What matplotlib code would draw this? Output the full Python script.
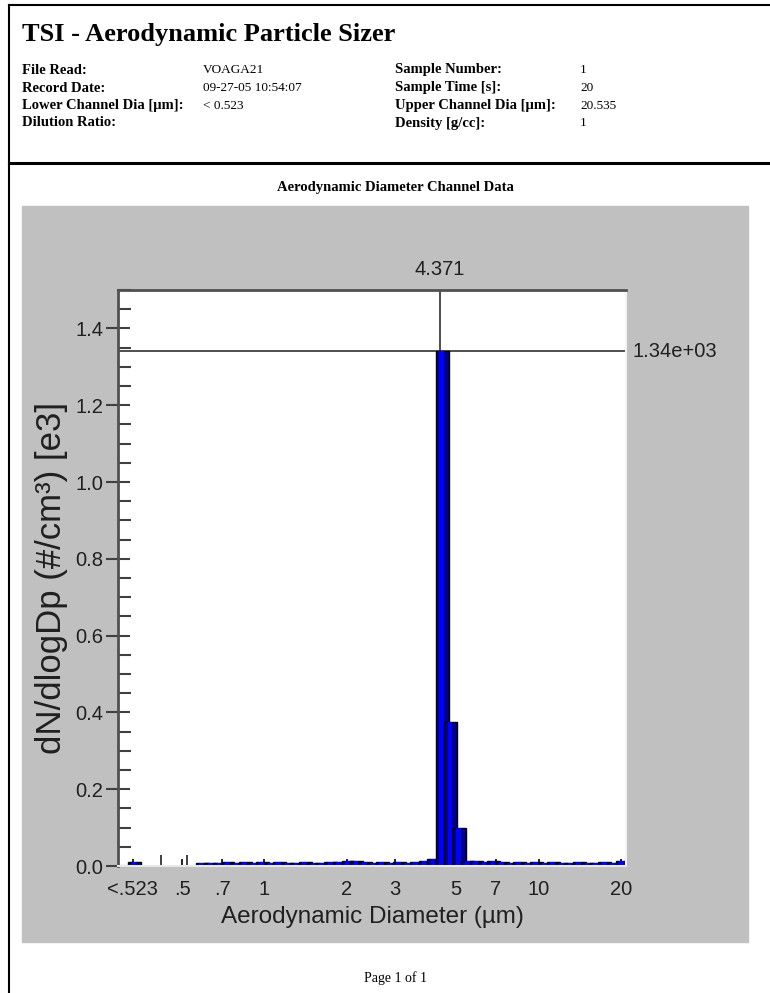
"""TSI APS report page: aerodynamic diameter channel data."""
import matplotlib
matplotlib.use("Agg")
import matplotlib.pyplot as plt
from matplotlib.lines import Line2D
from matplotlib.patches import Rectangle
from matplotlib.ticker import FixedLocator, FixedFormatter, MultipleLocator

# header info
info_labels_left = ["File Read:", "Record Date:", "Lower Channel Dia [µm]:", "Dilution Ratio:"]
info_values_left = ["VOAGA21", "09-27-05 10:54:07", "< 0.523", ""]
info_labels_right = ["Sample Number:", "Sample Time [s]:", "Upper Channel Dia [µm]:", "Density [g/cc]:"]
info_values_right = ["1", "20", "20.535", "1"]

# channel midpoints (µm) and dN/dlogDp [e3]
channel_mid = [0.542, 0.583, 0.626, 0.673, 0.723, 0.777, 0.835, 0.898, 0.965, 1.037,
               1.114, 1.197, 1.286, 1.382, 1.486, 1.596, 1.715, 1.843, 1.981, 2.129,
               2.288, 2.458, 2.642, 2.839, 3.051, 3.278, 3.523, 3.786, 4.068, 4.371,
               4.698, 5.048, 5.425, 5.829, 6.264, 6.732, 7.234, 7.774, 8.354, 8.977,
               9.647, 10.37, 11.14, 11.97, 12.86, 13.82, 14.86, 15.96, 17.15, 18.43, 19.81]
dn_dlogdp = [0.000,
             0.008, 0.009, 0.009, 0.010, 0.009, 0.010, 0.009, 0.010, 0.009,
             0.010, 0.009, 0.009, 0.010, 0.009, 0.009, 0.010, 0.011, 0.014,
             0.012, 0.010, 0.009, 0.010, 0.009, 0.010, 0.009, 0.010, 0.012, 0.018,
             1.340, 0.376, 0.099, 0.014, 0.012, 0.010, 0.012, 0.010, 0.009,
             0.010, 0.009, 0.010, 0.009, 0.010, 0.009, 0.009, 0.010, 0.009, 0.009,
             0.010, 0.009, 0.012]
lt523_value = 0.010          # the "<.523" channel
cursor_x = 4.371
cursor_y = 1.34

xtick_pos = [0.33, 0.5, 0.7, 1, 2, 3, 5, 7, 10, 20]
xtick_labels = ["<.523", ".5", ".7", "1", "2", "3", "5", "7", "10", "20"]
ytick_pos = [0.0, 0.2, 0.4, 0.6, 0.8, 1.0, 1.2, 1.4]
ytick_labels = ["0.0", "0.2", "0.4", "0.6", "0.8", "1.0", "1.2", "1.4"]

W, H = 770, 993
SERIF = "Liberation Serif"
SANS = "Liberation Sans"


def fx(px):
    return px / W


def fy(py):
    return 1 - py / H


fig = plt.figure(figsize=(W / 100, H / 100), dpi=100)
fig.patch.set_facecolor("white")

# page frame + grey panel
fig.add_artist(Line2D([fx(9), fx(9)], [0, fy(5)], color="black", lw=1.5))
fig.add_artist(Line2D([fx(9), 1], [fy(5), fy(5)], color="black", lw=1.5))
fig.add_artist(Line2D([fx(9), 1], [fy(163), fy(163)], color="black", lw=2.2))
fig.add_artist(Rectangle((fx(22), fy(942)), fx(748 - 22), (942 - 206) / H,
                         transform=fig.transFigure, color="#c0c0c0", zorder=-5))

# header text
fig.text(fx(22), fy(35), "TSI - Aerodynamic Particle Sizer", family=SERIF,
         weight="bold", fontsize=19, va="center")
rows_y = [70, 88, 106, 123]
for yy, a, b, c, d in zip(rows_y, info_labels_left, info_values_left,
                          info_labels_right, info_values_right):
    fig.text(fx(22), fy(yy), a, family=SERIF, weight="bold", fontsize=10.5, va="center")
    fig.text(fx(203), fy(yy), b, family=SERIF, fontsize=9.5, va="center")
    fig.text(fx(395), fy(yy), c, family=SERIF, weight="bold", fontsize=10.5, va="center")
    fig.text(fx(580), fy(yy), d, family=SERIF, fontsize=9.5, va="center")
fig.text(fx(395), fy(187), "Aerodynamic Diameter Channel Data", family=SERIF,
         weight="bold", fontsize=10.5, ha="center", va="center")
fig.text(fx(395), fy(978), "Page 1 of 1", family=SERIF, fontsize=10,
         ha="center", va="center")

# plot area
ax = fig.add_axes([fx(118), fy(866), fx(508), 576 / H])
ax.set_facecolor("white")
ax.set_xscale("log")
ax.set_xlim(0.292, 20.86)
ax.set_ylim(0, 1.5)

step = 10 ** (1 / 32)
lo, hi = step ** -0.5, step ** 1.0
all_x = [0.33] + channel_mid
all_y = [lt523_value] + dn_dlogdp
for xm, v in zip(all_x, all_y):
    if v <= 0:
        continue
    left = xm * lo
    ax.bar(left, v, width=xm * hi - left, align="edge", color="#000088",
           edgecolor="black", linewidth=1.0, zorder=2)
    ax.bar(xm * step ** -0.1, v, width=xm * step ** 0.45 - xm * step ** -0.1,
           align="edge", color="#0000ff", linewidth=0, zorder=2)

ax.axvline(cursor_x, color="#303030", lw=1.2, zorder=1)
ax.axhline(cursor_y, color="#303030", lw=1.2, zorder=1)
ax.text(cursor_x, 1 + (290 - 269.5) / 576, f"{cursor_x:.3f}",
        transform=ax.get_xaxis_transform(), ha="center", va="center",
        family=SANS, fontsize=14.5, color="#202020", clip_on=False)
ax.text(1 + (633 - 626) / 508, cursor_y, f"{cursor_y * 1000:.2e}",
        transform=ax.get_yaxis_transform(), ha="left", va="center",
        family=SANS, fontsize=14.5, color="#202020", clip_on=False)

ax.xaxis.set_major_locator(FixedLocator(xtick_pos))
ax.xaxis.set_major_formatter(FixedFormatter(xtick_labels))
ax.xaxis.set_minor_locator(FixedLocator([0.42, 0.523]))
ax.tick_params(axis="x", which="major", direction="in", length=5, width=1.2,
               color="black", pad=10, labelsize=14.5, labelcolor="#202020")
ax.tick_params(axis="x", which="minor", direction="in", length=8, width=1.2,
               color="#202020")
ax.yaxis.set_major_locator(FixedLocator(ytick_pos))
ax.yaxis.set_major_formatter(FixedFormatter(ytick_labels))
ax.yaxis.set_minor_locator(MultipleLocator(0.05))
ax.tick_params(axis="y", which="major", direction="inout", length=17, width=1.5,
               color="#404040", pad=2, labelsize=14.5, labelcolor="#202020")
ax.tick_params(axis="y", which="minor", direction="in", length=9, width=1.5,
               color="#404040")
for lab in ax.get_xticklabels() + ax.get_yticklabels():
    lab.set_family(SANS)

for side in ["top", "left"]:
    ax.spines[side].set_color("#505050")
    ax.spines[side].set_linewidth(2)
ax.spines["right"].set_color("#f4f4f4")
ax.spines["bottom"].set_color("#e8e8e8")
ax.spines["right"].set_linewidth(1.5)
ax.spines["bottom"].set_linewidth(1.5)

ax.set_xlabel("Aerodynamic Diameter (µm)", family=SANS, fontsize=17.5, color="#202020")
ax.xaxis.set_label_coords(0.5, -(906 - 866) / 576)
ax.set_ylabel("dN/dlogDp (#/cm³) [e3]", family=SANS, fontsize=25, color="#202020")
ax.yaxis.set_label_coords(-(118 - 68) / 508, 0.5)

fig.savefig("out.png", dpi=100)
